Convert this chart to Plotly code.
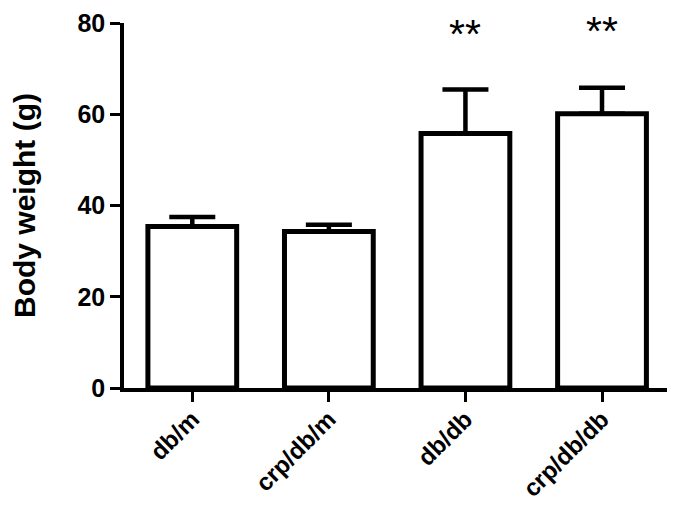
import plotly.graph_objects as go

groups = ["db/m", "crp/db/m", "db/db", "crp/db/db"]
mean_weight = [35.4, 34.3, 55.8, 60.1]
sem_weight = [2.1, 1.5, 9.6, 5.7]
stars = ["", "", "**", "**"]
star_y = [0, 0, 77.6, 78.2]

font_family = "Liberation Sans, Arial, sans-serif"

fig = go.Figure()
fig.add_trace(go.Bar(
    x=groups,
    y=mean_weight,
    width=0.65,
    marker=dict(color="white", line=dict(color="black", width=5)),
    error_y=dict(type="data", symmetric=False, array=sem_weight,
                 arrayminus=[0] * len(groups),
                 color="black", thickness=4.5, width=23),
))

for g, s, sy in zip(groups, stars, star_y):
    if s:
        fig.add_annotation(x=g, y=sy, text=s, showarrow=False,
                           font=dict(family=font_family, size=41, color="black"))

# the page body has an 8px margin, so the margins below are shifted by that
fig.update_layout(
    width=675, height=510,
    margin=dict(l=102, r=0, t=15, b=130),
    plot_bgcolor="white", paper_bgcolor="white",
    showlegend=False,
    font=dict(family=font_family, color="black"),
    xaxis=dict(
        range=[-0.5, 3.593],
        showline=True, linecolor="black", linewidth=3.5,
        ticks="outside", ticklen=10, tickwidth=3, tickcolor="black",
        tickangle=-45, ticklabelstandoff=-6,
        tickfont=dict(family=font_family, size=24, color="black", weight="bold"),
        showgrid=False, zeroline=False,
    ),
    yaxis=dict(
        range=[0, 80],
        tickvals=[0, 20, 40, 60, 80],
        showline=True, linecolor="black", linewidth=3.5,
        ticks="outside", ticklen=10, tickwidth=3, tickcolor="black",
        tickfont=dict(family=font_family, size=25, color="black", weight="bold"),
        title=dict(text="Body weight (g)", standoff=48,
                   font=dict(family=font_family, size=30, color="black", weight="bold")),
        showgrid=False, zeroline=False,
    ),
)

fig.write_html("out.html")
